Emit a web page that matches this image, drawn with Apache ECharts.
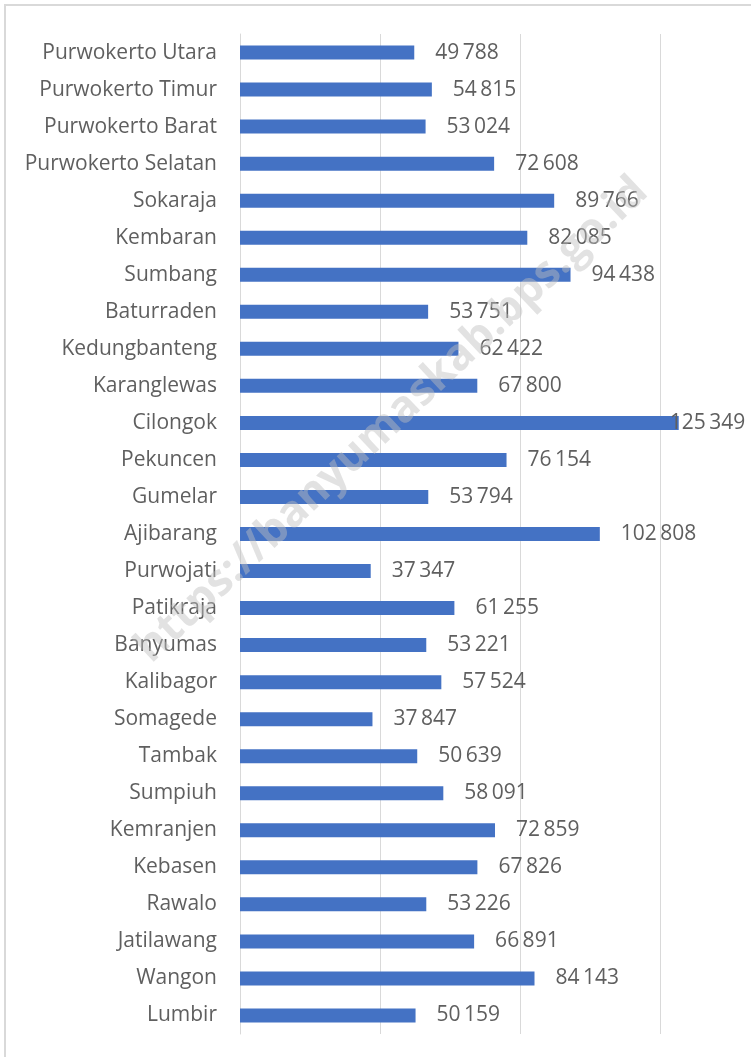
<!DOCTYPE html>
<html>
<head>
<meta charset="utf-8">
<script src="https://cdn.jsdelivr.net/npm/echarts@6/dist/echarts.min.js"></script>
<style>
html,body{margin:0;padding:0;background:#fff;}
#chart{width:751px;height:1057px;}
</style>
</head>
<body>
<div id="chart"></div>
<script>
const categories = ["Purwokerto Utara","Purwokerto Timur","Purwokerto Barat","Purwokerto Selatan","Sokaraja","Kembaran","Sumbang","Baturraden","Kedungbanteng","Karanglewas","Cilongok","Pekuncen","Gumelar","Ajibarang","Purwojati","Patikraja","Banyumas","Kalibagor","Somagede","Tambak","Sumpiuh","Kemranjen","Kebasen","Rawalo","Jatilawang","Wangon","Lumbir"];
const values = [49788,54815,53024,72608,89766,82085,94438,53751,62422,67800,125349,76154,53794,102808,37347,61255,53221,57524,37847,50639,58091,72859,67826,53226,66891,84143,50159];
const watermark = "https://banyumaskab.bps.go.id";

const fmt = v => String(v).replace(/\B(?=(\d{3})+(?!\d))/g, '\u2009');
const maxV = Math.max(...values);
const seriesData = values.map(v => v === maxV ? {value: v, label: {distance: -9}} : v);

const chart = echarts.init(document.getElementById('chart'), null, {renderer: 'canvas'});
chart.setOption({
  animation: false,
  backgroundColor: '#fff',
  grid: {left: 240, top: 34, right: 0, bottom: 23, containLabel: false},
  xAxis: {
    type: 'value', min: 0, max: 146000, interval: 40000,
    axisLabel: {show: false}, axisLine: {show: false}, axisTick: {show: false},
    splitLine: {show: true, showMaxLine: false, lineStyle: {color: '#d9d9d9', width: 1}}
  },
  yAxis: {
    type: 'category', data: categories, inverse: true,
    axisLine: {show: true, lineStyle: {color: '#d9d9d9', width: 1}},
    axisTick: {show: false},
    axisLabel: {color: '#5f5f5f', fontSize: 21, fontFamily: 'Open Sans', margin: 23}
  },
  series: [{
    type: 'bar', data: seriesData, barWidth: 14,
    itemStyle: {color: '#4472C4'},
    label: {show: true, position: 'right', distance: 21, color: '#5f5f5f', fontSize: 21, fontFamily: 'Open Sans', formatter: p => fmt(p.value)}
  }],
  graphic: [
    {type: 'rect', shape: {x: 5, y: 5, width: 900, height: 1200}, style: {fill: 'none', stroke: '#d9d9d9', lineWidth: 2}, silent: true},
    {type: 'text', x: 392, y: 420, rotation: 43.3 * Math.PI / 180, z: 100,
     style: {text: watermark, fill: 'rgba(190,190,190,0.45)', font: 'bold 44px "Open Sans"', align: 'center', verticalAlign: 'middle'}}
  ]
});
</script>
</body>
</html>
